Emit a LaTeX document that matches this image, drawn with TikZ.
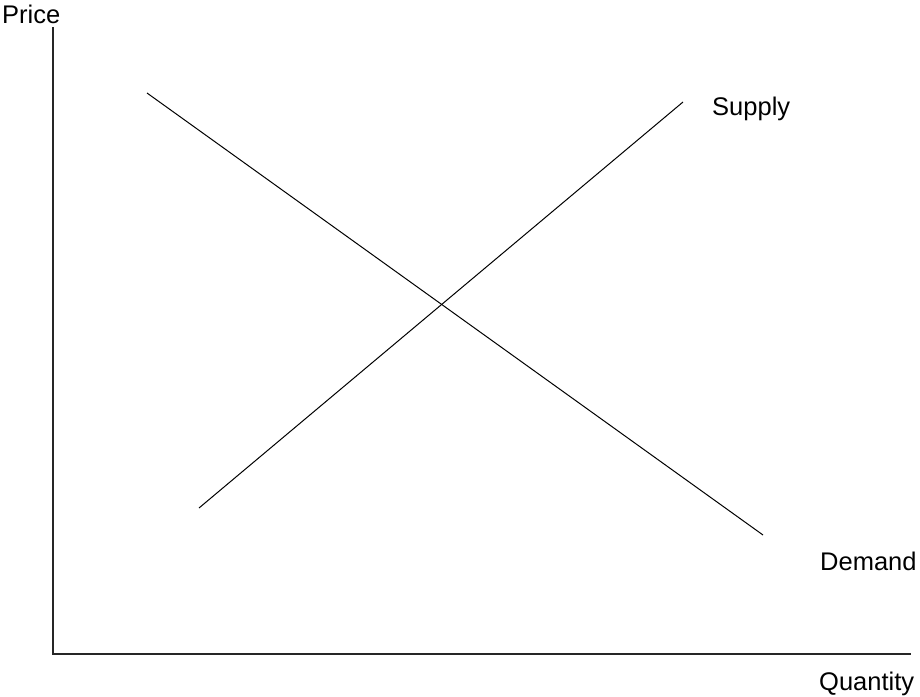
\documentclass[tikz,border=0pt]{standalone}
\usepackage{fontspec}
\setmainfont{Liberation Sans}
\begin{document}
\begin{tikzpicture}[x=1pt,y=-1pt,
  lbl/.style={anchor=base west,inner sep=0pt,font=\fontsize{25.5}{30}\selectfont},
  curve/.style={line width=1pt,black},
  axis/.style={line width=1.3pt,black!85}]
\useasboundingbox (0,0) rectangle (920,696);
\coordinate (ytop) at (53,27);
\coordinate (origin) at (53,654);
\coordinate (xend) at (911,654);
\coordinate (d1) at (147,93);
\coordinate (d2) at (763,535);
\coordinate (s1) at (199,508);
\coordinate (s2) at (683,102);
\draw[axis] (ytop) -- (origin) -- (xend);
\draw[curve] (d1) -- (d2);
\draw[curve] (s1) -- (s2);
\node[lbl] (price) at (2,23) {Price};
\node[lbl] (supply) at (712,115) {Supply};
\node[lbl] (demand) at (820,570) {Demand};
\node[lbl] (quantity) at (819,690) {Quantity};
\end{tikzpicture}
\end{document}
